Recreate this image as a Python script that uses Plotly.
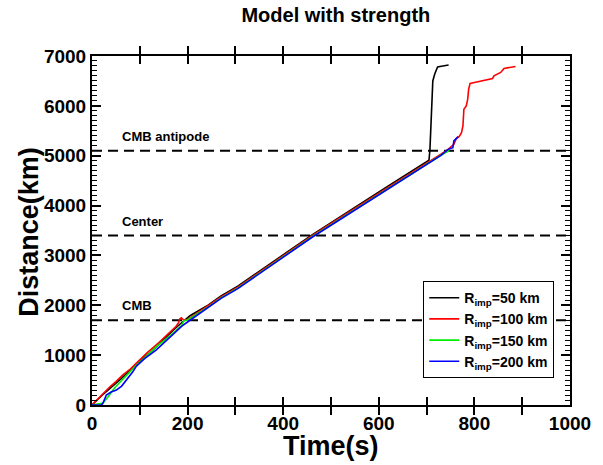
import plotly.graph_objects as go

# ---- data (time in s, distance in km) ----
black_t = [0, 5, 12, 25, 40, 60, 80, 100, 125, 150, 170, 185, 195, 205, 240, 270, 305, 340, 380, 420, 462, 500, 540, 580, 620, 660, 690, 700, 705, 707, 709, 711, 713, 717, 723, 734, 746]
black_d = [0, 40, 110, 230, 350, 520, 700, 880, 1080, 1320, 1500, 1630, 1710, 1790, 1985, 2190, 2385, 2620, 2880, 3145, 3420, 3660, 3905, 4150, 4395, 4640, 4820, 4880, 4910, 5130, 5700, 6200, 6500, 6640, 6780, 6800, 6820]

red_t = [0, 5, 12, 25, 37, 50, 64, 80, 93, 115, 140, 160, 176, 181, 184, 187, 192, 200, 240, 270, 305, 340, 380, 420, 462, 500, 540, 580, 620, 660, 700, 730, 745, 757, 762, 768, 773, 776, 778, 783, 786, 788, 791, 800, 814, 827, 838, 841, 848, 855, 862, 876, 886]
red_d = [0, 50, 120, 230, 360, 470, 600, 720, 845, 1045, 1250, 1430, 1580, 1650, 1730, 1750, 1700, 1715, 1965, 2170, 2365, 2600, 2860, 3125, 3405, 3640, 3885, 4130, 4370, 4615, 4850, 5030, 5128, 5229, 5343, 5383, 5464, 5597, 5933, 5999, 6134, 6335, 6449, 6469, 6502, 6522, 6550, 6603, 6637, 6670, 6751, 6771, 6791]

green_t = [0, 23, 35, 47, 58, 75, 93, 115, 134, 160, 183, 188, 192, 200, 240, 270, 305, 340, 380, 420, 462, 500, 540, 580, 620, 660, 700, 730, 748]
green_d = [0, 40, 180, 340, 450, 620, 800, 990, 1165, 1360, 1550, 1600, 1690, 1705, 1945, 2150, 2345, 2580, 2840, 3105, 3385, 3615, 3860, 4105, 4345, 4590, 4830, 5010, 5110]

blue_t = [0, 20, 23, 27, 30, 40, 51, 62, 72, 85, 93, 110, 134, 160, 188, 202, 240, 270, 305, 340, 380, 420, 462, 500, 540, 580, 620, 660, 700, 730, 745, 752, 755, 757, 761, 766]
blue_d = [0, 0, 40, 150, 200, 260, 300, 380, 500, 660, 780, 930, 1100, 1330, 1580, 1680, 1935, 2140, 2335, 2570, 2830, 3095, 3375, 3605, 3850, 4095, 4335, 4580, 4825, 5005, 5128, 5142, 5162, 5296, 5343, 5383]

series_names = ["R<sub>imp</sub>=50 km", "R<sub>imp</sub>=100 km", "R<sub>imp</sub>=150 km", "R<sub>imp</sub>=200 km"]
series_colors = ["#000000", "#ff0000", "#00ee00", "#0000ff"]

boundary_levels = [1700, 3400, 5100]
boundary_labels = ["CMB", "Center", "CMB antipode"]

x_tick_vals = [0, 100, 200, 300, 400, 500, 600, 700, 800, 900, 1000]
x_tick_text = ["0", "", "200", "", "400", "", "600", "", "800", "", "1000"]
y_tick_vals = [0, 1000, 2000, 3000, 4000, 5000, 6000, 7000]

FONT = "Liberation Sans, Arial, Helvetica, sans-serif"

fig = go.Figure()
for (t, d), name, color in zip(
    [(black_t, black_d), (red_t, red_d), (green_t, green_d), (blue_t, blue_d)],
    series_names, series_colors):
    fig.add_trace(go.Scatter(x=t, y=d, mode="lines", name=name,
                             line=dict(color=color, width=1.6)))

# empty helper trace so the right-hand axis (with its minor ticks) is drawn
fig.add_trace(go.Scatter(x=[None], y=[None], yaxis="y2", showlegend=False, hoverinfo="skip"))

for lvl, lab in zip(boundary_levels, boundary_labels):
    fig.add_shape(type="line", xref="paper", x0=0, x1=1, yref="y", y0=lvl, y1=lvl,
                  line=dict(color="black", width=2, dash="10px,6px"), layer="below")
    fig.add_annotation(x=58, y=lvl + 290, xref="x", yref="y", text=lab, showarrow=False,
                       xanchor="left", yanchor="middle",
                       font=dict(family=FONT, size=13, color="black", weight="bold"))

fig.add_annotation(x=0.5, y=-0.118, xref="paper", yref="paper", text="Time(s)",
                   showarrow=False, xanchor="center", yanchor="middle",
                   font=dict(family=FONT, size=27, color="black", weight="bold"))
fig.add_annotation(x=-0.132, y=0.496, xref="paper", yref="paper", text="Distance(km)",
                   showarrow=False, textangle=-90, xanchor="center", yanchor="middle",
                   font=dict(family=FONT, size=27, color="black", weight="bold"))

fig.update_layout(
    width=603, height=465,
    margin=dict(l=92, r=26, t=56, b=60),
    paper_bgcolor="white", plot_bgcolor="white",
    title=dict(text="Model with strength", x=0.557, xanchor="center", y=0.968, yanchor="middle",
               font=dict(family=FONT, size=20, color="black", weight="bold")),
    showlegend=True,
    legend=dict(x=0.693, y=0.355, xanchor="left", yanchor="top",
                bgcolor="white", bordercolor="black", borderwidth=1,
                font=dict(family=FONT, size=14, color="black", weight="bold"),
                tracegroupgap=0, itemwidth=30),
    xaxis=dict(range=[0, 1000], tickmode="array", tickvals=x_tick_vals, ticktext=x_tick_text,
               ticks="inside", ticklen=8, tickwidth=1.5, tickcolor="black",
               showline=True, linecolor="black", linewidth=2, mirror="allticks",
               showgrid=False, zeroline=False,
               tickfont=dict(family=FONT, size=19, color="black", weight="bold")),
    yaxis=dict(range=[0, 7000], tickmode="array", tickvals=y_tick_vals,
               ticks="inside", ticklen=9, tickwidth=1.5, tickcolor="black",
               minor=dict(dtick=100, ticks="inside", ticklen=5, tickwidth=1, tickcolor="black", showgrid=False),
               showline=True, linecolor="black", linewidth=2, mirror=True,
               showgrid=False, zeroline=False,
               tickfont=dict(family=FONT, size=19, color="black", weight="bold")),
    yaxis2=dict(range=[0, 7000], overlaying="y", side="right", anchor="x",
                tickmode="array", tickvals=y_tick_vals, showticklabels=False,
                ticks="inside", ticklen=9, tickwidth=1.5, tickcolor="black",
                minor=dict(dtick=100, ticks="inside", ticklen=5, tickwidth=1, tickcolor="black", showgrid=False),
                showline=True, linecolor="black", linewidth=2,
                showgrid=False, zeroline=False),
)

fig.write_html("out.html")
